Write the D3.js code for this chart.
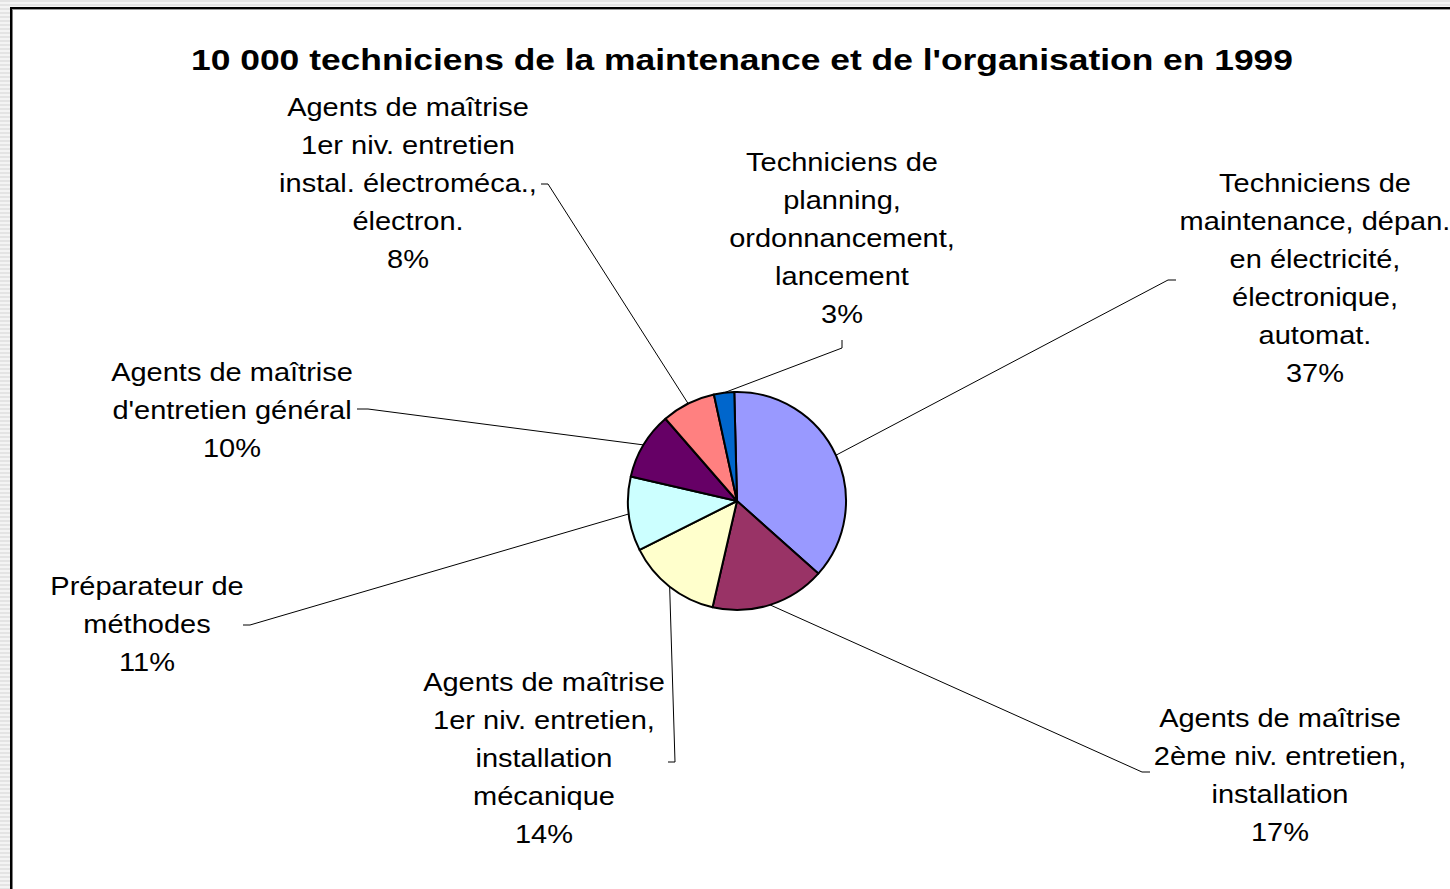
<!DOCTYPE html>
<html>
<head>
<meta charset="utf-8">
<script src="https://cdn.jsdelivr.net/npm/d3@7"></script>
<style>
  body { margin: 0; background: #fff; }
  svg { display: block; }
</style>
</head>
<body>
<div id="chart"></div>
<script>
// Data
var categories = [
  "Techniciens de maintenance, dépan. en électricité, électronique, automat.",
  "Agents de maîtrise 2ème niv. entretien, installation",
  "Agents de maîtrise 1er niv. entretien, installation mécanique",
  "Préparateur de méthodes",
  "Agents de maîtrise d'entretien général",
  "Agents de maîtrise 1er niv. entretien instal. électroméca., électron.",
  "Techniciens de planning, ordonnancement, lancement"
];
var values = [37, 17, 14, 11, 10, 8, 3];
// label text broken in lines as on the picture
var labelLines = [
  ["Techniciens de", "maintenance, dépan.", "en électricité,", "électronique,", "automat."],
  ["Agents de maîtrise", "2ème niv. entretien,", "installation"],
  ["Agents de maîtrise", "1er niv. entretien,", "installation", "mécanique"],
  ["Préparateur de", "méthodes"],
  ["Agents de maîtrise", "d'entretien général"],
  ["Agents de maîtrise", "1er niv. entretien", "instal. électroméca.,", "électron."],
  ["Techniciens de", "planning,", "ordonnancement,", "lancement"]
];
var colors = ["#9999FF", "#993366", "#FFFFCC", "#CCFFFF", "#660066", "#FF8080", "#0066CC"];
var title = "10 000 techniciens de la maintenance et de l'organisation en 1999";

// Layout: label centre / first line y, and leader line elbow + end
var labelLayout = [
  { x: 1315, y: 183, elbow: [1168, 280], end: [1176, 280] },
  { x: 1280, y: 718, elbow: [1142, 772], end: [1150, 772] },
  { x: 544,  y: 682, elbow: [675, 762],  end: [668, 762] },
  { x: 147,  y: 586, elbow: [250, 625],  end: [243, 625] },
  { x: 232,  y: 372, elbow: [368, 409],  end: [357, 409] },
  { x: 408,  y: 107, elbow: [548, 184],  end: [541, 184] },
  { x: 842,  y: 162, elbow: [842, 348],  end: [842, 340] }
];

var width = 1450, height = 889;
var cx = 737, cy = 501, radius = 109;
var lineHeight = 38;
var stretch = 1.16; // text in the picture is drawn wider than normal

var svg = d3.select("#chart").append("svg")
  .attr("width", width)
  .attr("height", height);

// Striped grey margin (left and top), like the window behind the chart
var defs = svg.append("defs");
var pat = defs.append("pattern")
  .attr("id", "stripes")
  .attr("width", 4).attr("height", 4)
  .attr("patternUnits", "userSpaceOnUse");
pat.append("rect").attr("width", 4).attr("height", 4).attr("fill", "#f4f4f4");
pat.append("rect").attr("width", 4).attr("height", 2).attr("fill", "#e4e4e4");

svg.append("rect").attr("x", 0).attr("y", 0).attr("width", width).attr("height", height).attr("fill", "#fff");
svg.append("rect").attr("x", 0).attr("y", 0).attr("width", 10).attr("height", height).attr("fill", "url(#stripes)");
svg.append("rect").attr("x", 0).attr("y", 0).attr("width", width).attr("height", 7).attr("fill", "url(#stripes)");

// Chart border (left and top)
svg.append("rect").attr("x", 10).attr("y", 7).attr("width", 2.5).attr("height", height).attr("fill", "#000");
svg.append("rect").attr("x", 10).attr("y", 7).attr("width", width).attr("height", 2).attr("fill", "#000");
svg.append("rect").attr("x", 12.5).attr("y", 9).attr("width", width).attr("height", 1).attr("fill", "#999");

// Title
svg.append("text")
  .attr("transform", "translate(742,70) scale(1.18,1)")
  .attr("text-anchor", "middle")
  .style("font-family", "'Liberation Sans', Arial, sans-serif")
  .style("font-size", "30px")
  .style("font-weight", "bold")
  .text(title);

// Pie
var startOffset = -0.025;
var pie = d3.pie()
  .sort(null)
  .startAngle(startOffset)
  .endAngle(2 * Math.PI + startOffset)
  .value(function (d) { return d; });

var arcs = pie(values);

var arc = d3.arc()
  .innerRadius(0)
  .outerRadius(radius);

// Leader lines (drawn before the pie so the pie edge sits on top)
var leaders = svg.append("g");
arcs.forEach(function (a, i) {
  var mid = (a.startAngle + a.endAngle) / 2;
  var px = cx + radius * Math.sin(mid);
  var py = cy - radius * Math.cos(mid);
  var L = labelLayout[i];
  leaders.append("path")
    .attr("d", "M" + px + "," + py + "L" + L.elbow[0] + "," + L.elbow[1] + "L" + L.end[0] + "," + L.end[1])
    .attr("fill", "none")
    .attr("stroke", "#000")
    .attr("stroke-width", 1);
});

var chart = svg.append("g")
  .attr("transform", "translate(" + cx + "," + cy + ")");

chart.selectAll("path.slice")
  .data(arcs)
  .enter()
  .append("path")
  .attr("class", "slice")
  .attr("d", arc)
  .attr("fill", function (d, i) { return colors[i]; })
  .attr("stroke", "#000")
  .attr("stroke-width", 2)
  .attr("stroke-linejoin", "round");

// Labels
var labels = svg.append("g")
  .style("font-family", "'Liberation Sans', Arial, sans-serif")
  .style("font-size", "25px")
  .attr("fill", "#000");

arcs.forEach(function (a, i) {
  var L = labelLayout[i];
  var lines = labelLines[i].concat([values[i] + "%"]);
  var t = labels.append("text")
    .attr("text-anchor", "middle")
    .attr("transform", "translate(" + L.x + "," + L.y + ") scale(" + stretch + ",1)");
  lines.forEach(function (s, j) {
    t.append("tspan")
      .attr("x", 0)
      .attr("y", j * lineHeight)
      .attr("dy", "0.35em")
      .text(s);
  });
});
</script>
</body>
</html>
